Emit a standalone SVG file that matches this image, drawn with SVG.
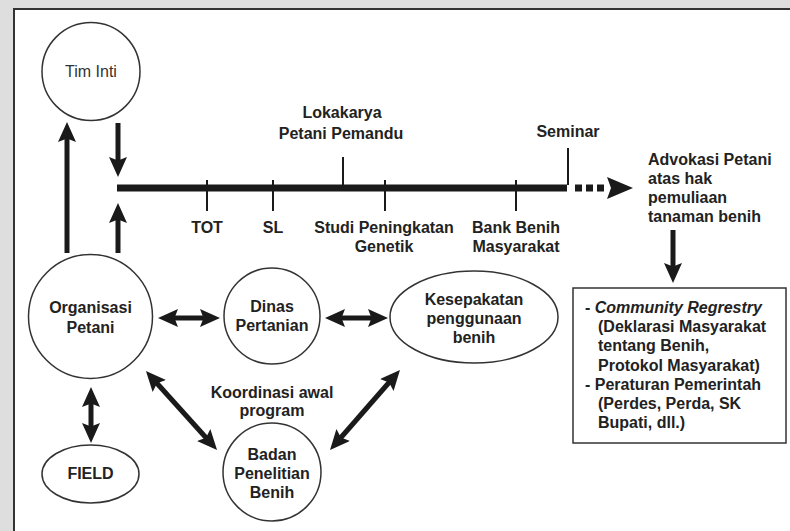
<svg xmlns="http://www.w3.org/2000/svg" width="790" height="531" viewBox="0 0 790 531">
<style>
text{font-family:"Liberation Sans",Arial,sans-serif;font-size:16px;font-weight:bold;fill:#222}
.c{text-anchor:middle}
.reg{font-weight:normal;fill:#333}
.node{fill:#fff;stroke:#333;stroke-width:1.5}
.arr{stroke:#1a1a1a;stroke-width:5;fill:none}
.tick{stroke:#1a1a1a;stroke-width:2}
</style>
<defs>
<marker id="ah" markerUnits="userSpaceOnUse" markerWidth="20" markerHeight="18" viewBox="0 0 20 18" refX="12" refY="9" orient="auto-start-reverse">
<path d="M0,0 L20,9 L0,18 L3.5,9 z" fill="#1a1a1a"/>
</marker>
</defs>
<rect x="0" y="0" width="790" height="531" fill="#dedede"/>
<rect x="14" y="9" width="800" height="560" fill="#fff" stroke="#333" stroke-width="2"/>

<g id="connectors">
<line class="arr" x1="67" y1="253" x2="67" y2="130" marker-end="url(#ah)"/>
<line class="arr" x1="118" y1="123" x2="118" y2="169" marker-end="url(#ah)"/>
<line class="arr" x1="118" y1="253" x2="118" y2="211" marker-end="url(#ah)"/>
<line class="arr" x1="166" y1="318" x2="212" y2="318" marker-start="url(#ah)" marker-end="url(#ah)"/>
<line class="arr" x1="333" y1="318" x2="380" y2="318" marker-start="url(#ah)" marker-end="url(#ah)"/>
<line class="arr" x1="91" y1="395" x2="91" y2="435" marker-start="url(#ah)" marker-end="url(#ah)"/>
<line class="arr" x1="151.3" y1="377" x2="211.7" y2="444" marker-start="url(#ah)" marker-end="url(#ah)"/>
<line class="arr" x1="335.3" y1="444" x2="394.7" y2="376" marker-start="url(#ah)" marker-end="url(#ah)"/>
<line class="arr" x1="673" y1="230" x2="673" y2="275" marker-end="url(#ah)"/>
</g>

<g id="timeline">
<line x1="117" y1="188" x2="567" y2="188" stroke="#1a1a1a" stroke-width="7"/>
<line x1="575" y1="188" x2="608" y2="188" stroke="#1a1a1a" stroke-width="7" stroke-dasharray="7 4"/>
<path d="M607,177 L633,188 L607,199 L611,188 z" fill="#1a1a1a"/>
<line class="tick" x1="207" y1="180" x2="207" y2="211"/>
<line class="tick" x1="273" y1="180" x2="273" y2="211"/>
<line class="tick" x1="343" y1="157" x2="343" y2="185"/>
<line class="tick" x1="385" y1="180" x2="385" y2="211"/>
<line class="tick" x1="516" y1="180" x2="516" y2="211"/>
<line class="tick" x1="568" y1="148" x2="568" y2="185"/>
<text class="c" x="207" y="233">TOT</text>
<text class="c" x="273" y="233">SL</text>
<text class="c" x="342" y="118">Lokakarya</text>
<text class="c" x="341" y="139">Petani Pemandu</text>
<text class="c" x="384" y="233">Studi Peningkatan</text>
<text class="c" x="384" y="252">Genetik</text>
<text class="c" x="516" y="233">Bank Benih</text>
<text class="c" x="516" y="252">Masyarakat</text>
<text class="c" x="568" y="137">Seminar</text>
</g>

<g id="advokasi">
<text x="648" y="165">Advokasi Petani</text>
<text x="648" y="184">atas hak</text>
<text x="648" y="203">pemuliaan</text>
<text x="648" y="222">tanaman benih</text>
</g>

<g id="tim-inti">
<circle class="node" cx="91" cy="71.5" r="49"/>
<text class="c reg" x="91" y="77">Tim Inti</text>
</g>

<g id="organisasi-petani">
<circle class="node" cx="90.5" cy="316.5" r="62"/>
<text class="c" x="90.5" y="313">Organisasi</text>
<text class="c" x="90.5" y="333">Petani</text>
</g>

<g id="dinas-pertanian">
<circle class="node" cx="272" cy="316" r="48"/>
<text class="c" x="272" y="312">Dinas</text>
<text class="c" x="272" y="331">Pertanian</text>
</g>

<g id="kesepakatan">
<ellipse class="node" cx="474" cy="317" rx="84" ry="46"/>
<text class="c" x="474" y="305">Kesepakatan</text>
<text class="c" x="474" y="324">penggunaan</text>
<text class="c" x="474" y="343">benih</text>
</g>

<g id="field">
<ellipse class="node" cx="90.5" cy="474" rx="48.5" ry="29"/>
<text class="c" x="90.5" y="479">FIELD</text>
</g>

<g id="koordinasi">
<text class="c" x="272" y="398">Koordinasi awal</text>
<text class="c" x="272" y="416">program</text>
</g>

<g id="badan-penelitian">
<circle class="node" cx="272" cy="472" r="49"/>
<text class="c" x="272" y="460">Badan</text>
<text class="c" x="272" y="479">Penelitian</text>
<text class="c" x="272" y="498">Benih</text>
</g>

<g id="regulasi">
<rect class="node" x="573" y="288" width="213" height="155"/>
<text x="585" y="313">- <tspan font-style="italic">Community Regrestry</tspan></text>
<text x="598" y="332">(Deklarasi Masyarakat</text>
<text x="598" y="351">tentang Benih,</text>
<text x="598" y="371">Protokol Masyarakat)</text>
<text x="585" y="390">- Peraturan Pemerintah</text>
<text x="598" y="409">(Perdes, Perda, SK</text>
<text x="598" y="428">Bupati, dll.)</text>
</g>
</svg>
